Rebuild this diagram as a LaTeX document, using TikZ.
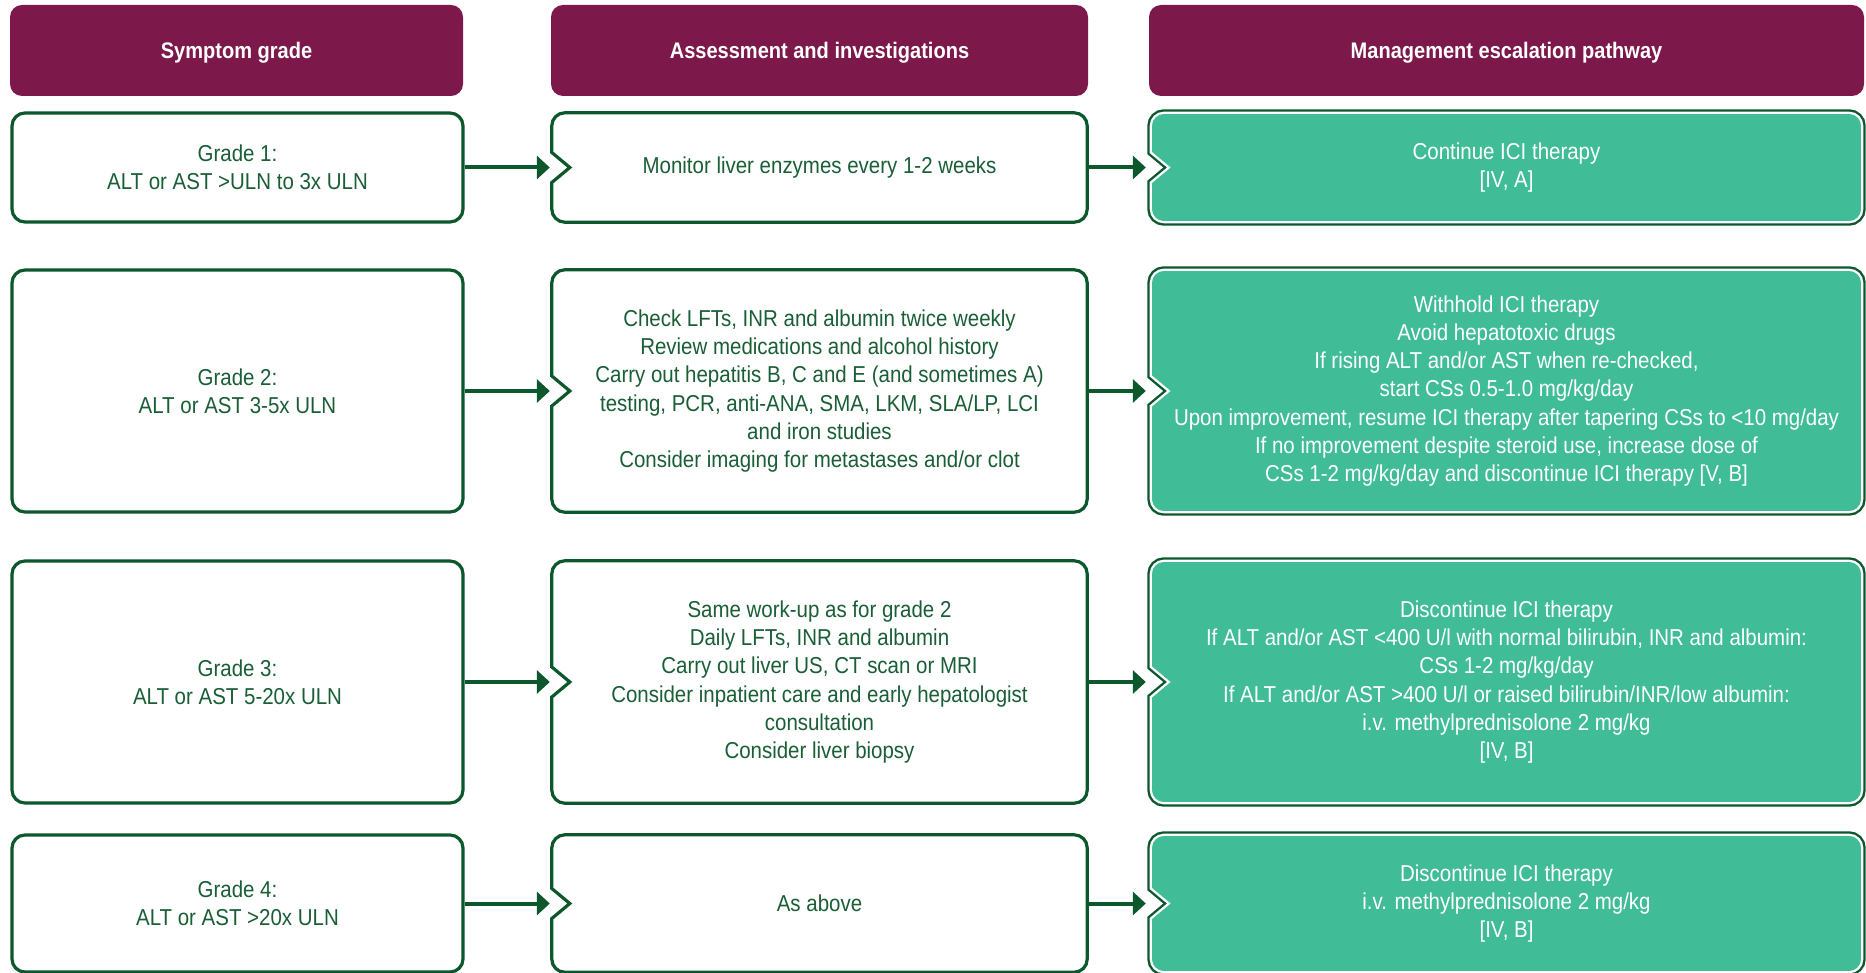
\documentclass[tikz,border=0pt]{standalone}
\usepackage{fontspec}
\setmainfont{Liberation Sans}[FakeStretch=0.89]
\usetikzlibrary{arrows.meta,calc}
\pgfdeclarelayer{background}
\pgfsetlayers{background,main}

\definecolor{hdrpurple}{HTML}{7D184B}
\definecolor{darkgreen}{HTML}{0C582C}
\definecolor{textgreen}{HTML}{1A5E36}
\definecolor{mgmtteal}{HTML}{40BD97}

\tikzset{
  cell/.style={rectangle, inner sep=0pt, align=center, text=textgreen,
    font=\fontsize{23}{28.3}\selectfont},
  gradebox/.style={cell, draw=darkgreen, line width=3.2pt, fill=white,
    rounded corners=13pt},
  mgmtcell/.style={cell, text=white},
  hdr/.style={rectangle, rounded corners=12pt, fill=hdrpurple, text=white,
    inner sep=0pt, align=center, text height=18pt, text depth=2.3pt,
    font=\bfseries\fontsize{22.5}{27}\selectfont},
  flow/.style={draw=darkgreen, line width=4pt,
    -{Triangle[length=13pt,width=23pt]}},
}

% Rounded box outline with an inward chevron on its left side
\newcommand\notchshape[2]{%
  \path[#2] let \p1=(#1.north west), \p2=(#1.south east), \p3=(#1.west) in
    (\x1+18pt,\y3) -- (\x1,\y3+15pt) -- (\x1,\y1-13pt)
    arc[start angle=180,end angle=90,radius=13pt] -- (\x2-13pt,\y1)
    arc[start angle=90,end angle=0,radius=13pt] -- (\x2,\y2+13pt)
    arc[start angle=0,end angle=-90,radius=13pt] -- (\x1+13pt,\y2)
    arc[start angle=270,end angle=180,radius=13pt] -- (\x1,\y3-15pt) -- cycle;}

\begin{document}
\begin{tikzpicture}[x=1pt,y=1pt,line join=miter]
\useasboundingbox (0,0) rectangle (1866,-973);

% column headers
\node[hdr, minimum width=453pt, minimum height=91pt] (h1) at (236.5,-50.5) {Symptom grade};
\node[hdr, minimum width=537pt, minimum height=91pt] (h2) at (819.5,-50.5) {Assessment and investigations};
\node[hdr, minimum width=715pt, minimum height=91pt] (h3) at (1506.5,-50.5) {Management escalation pathway};

% symptom grades
\node[gradebox, minimum width=451pt, minimum height=109pt] (g1) at (237.5,-167.5)
  {Grade 1:\\ALT or AST >ULN to 3x ULN};
\node[gradebox, minimum width=451pt, minimum height=242pt] (g2) at (237.5,-391)
  {Grade 2:\\ALT or AST 3-5x ULN};
\node[gradebox, minimum width=451pt, minimum height=242pt] (g3) at (237.5,-682)
  {Grade 3:\\ALT or AST 5-20x ULN};
\node[gradebox, minimum width=451pt, minimum height=137pt] (g4) at (237.5,-903.5)
  {Grade 4:\\ALT or AST >20x ULN};

% assessment and investigations
\node[cell, minimum width=535pt, minimum height=109pt] (a1) at (819.5,-167.5)
  {Monitor liver enzymes every 1-2 weeks};
\node[cell, minimum width=535pt, minimum height=242pt] (a2) at (819.5,-391)
  {Check LFTs, INR and albumin twice weekly\\
   Review medications and alcohol history\\
   Carry out hepatitis B, C and E (and sometimes A)\\
   testing, PCR, anti-ANA, SMA, LKM, SLA/LP, LCI\\
   and iron studies\\
   Consider imaging for metastases and/or clot};
\node[cell, minimum width=535pt, minimum height=242pt] (a3) at (819.5,-682)
  {Same work-up as for grade 2\\
   Daily LFTs, INR and albumin\\
   Carry out liver US, CT scan or MRI\\
   Consider inpatient care and early hepatologist\\
   consultation\\
   Consider liver biopsy};
\node[cell, minimum width=535pt, minimum height=137pt] (a4) at (819.5,-903.5)
  {As above};

% management
\node[mgmtcell, minimum width=711pt, minimum height=109pt] (m1) at (1506.5,-167.5)
  {Continue ICI therapy\\{}[IV, A]};
\node[mgmtcell, minimum width=711pt, minimum height=242pt] (m2) at (1506.5,-391)
  {Withhold ICI therapy\\
   Avoid hepatotoxic drugs\\
   If rising ALT and/or AST when re-checked,\\
   start CSs 0.5-1.0 mg/kg/day\\
   Upon improvement, resume ICI therapy after tapering CSs to <10 mg/day\\
   If no improvement despite steroid use, increase dose of\\
   CSs 1-2 mg/kg/day and discontinue ICI therapy [V, B]};
\node[mgmtcell, minimum width=711pt, minimum height=242pt] (m3) at (1506.5,-682)
  {Discontinue ICI therapy\\
   If ALT and/or AST <400 U/l with normal bilirubin, INR and albumin:\\
   CSs 1-2 mg/kg/day\\
   If ALT and/or AST >400 U/l or raised bilirubin/INR/low albumin:\\
   i.v. methylprednisolone 2 mg/kg\\{}[IV, B]};
\node[mgmtcell, minimum width=711pt, minimum height=137pt] (m4) at (1506.5,-903.5)
  {Discontinue ICI therapy\\
   i.v. methylprednisolone 2 mg/kg\\{}[IV, B]};

% box outlines behind the texts
\begin{pgfonlayer}{background}
  \fill[white] (0,0) rectangle (1866,-973);
  \foreach \bx in {a1,a2,a3,a4}{
    \notchshape{\bx}{draw=darkgreen, line width=3.2pt, fill=white}
  }
  \foreach \bx in {m1,m2,m3,m4}{
    \notchshape{\bx}{draw=darkgreen, line width=7pt}
    \notchshape{\bx}{draw=white, line width=2.2pt, fill=mgmtteal}
  }
\end{pgfonlayer}

% connectors
\foreach \r in {1,2,3,4}{
  \draw[flow, shorten >=2pt] (g\r) -- (a\r);
  \draw[flow, shorten >=5pt] (a\r) -- (m\r);
}
\end{tikzpicture}
\end{document}
